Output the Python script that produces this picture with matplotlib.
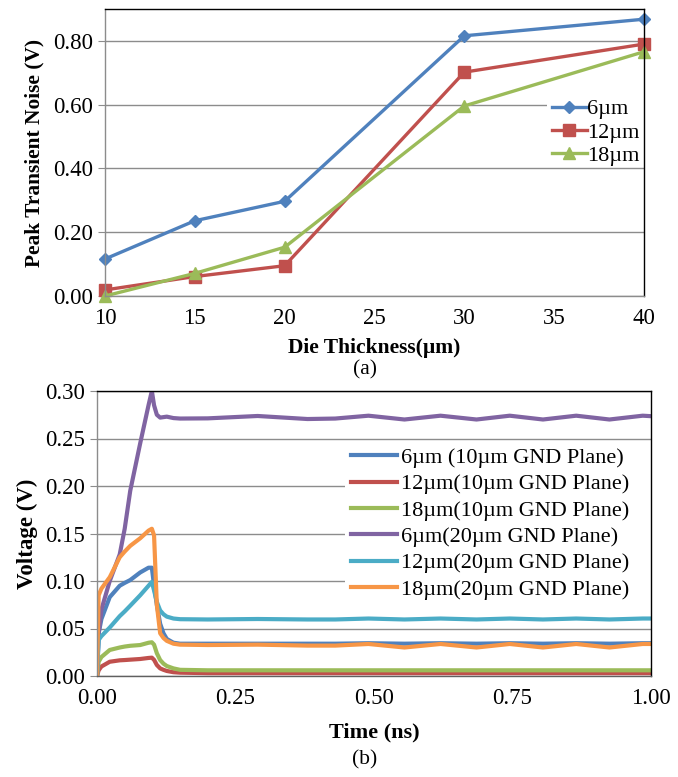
import matplotlib
matplotlib.use('Agg')
import matplotlib.pyplot as plt
from matplotlib.patches import Rectangle

plt.rcParams['font.family'] = ['Liberation Serif', 'DejaVu Serif']

# (a) peak transient noise vs die thickness
die_thickness = [10, 15, 20, 30, 40]
noise_6um = [0.116, 0.236, 0.297, 0.816, 0.868]
noise_12um = [0.019, 0.061, 0.095, 0.702, 0.790]
noise_18um = [0.000, 0.071, 0.153, 0.596, 0.766]
top_labels = ['6\u00b5m', '12\u00b5m', '18\u00b5m']

# (b) transient waveforms
time_ns = [0.0, 0.003, 0.008, 0.023, 0.041, 0.05, 0.06, 0.078, 0.093, 0.099,
           0.103, 0.108, 0.114, 0.12, 0.126, 0.138, 0.15, 0.2, 0.29, 0.38,
           0.43, 0.49, 0.555, 0.62, 0.685, 0.745, 0.805, 0.865, 0.925, 0.985, 1.0]
v_6um_10 = [0.0, 0.045, 0.060, 0.083, 0.095, 0.098, 0.101, 0.109, 0.114, 0.114,
            0.095, 0.075, 0.055, 0.045, 0.039, 0.035, 0.034, 0.034, 0.034, 0.034,
            0.034, 0.0345, 0.034, 0.0345, 0.034, 0.0345, 0.034, 0.0345, 0.034, 0.0345, 0.0345]
v_12um_10 = [0.0, 0.006, 0.010, 0.015, 0.0165, 0.0168, 0.0172, 0.0179, 0.019, 0.0193,
             0.017, 0.0116, 0.008, 0.0065, 0.0053, 0.004, 0.0035, 0.003, 0.003, 0.003,
             0.003, 0.003, 0.003, 0.003, 0.003, 0.003, 0.003, 0.003, 0.003, 0.003, 0.003]
v_18um_10 = [0.0, 0.015, 0.020, 0.0274, 0.030, 0.031, 0.0318, 0.0326, 0.035, 0.0355,
             0.033, 0.024, 0.0168, 0.013, 0.0105, 0.008, 0.0065, 0.006, 0.006, 0.006,
             0.006, 0.006, 0.006, 0.006, 0.006, 0.006, 0.006, 0.006, 0.006, 0.006, 0.006]
v_6um_20 = [0.0, 0.045, 0.070, 0.100, 0.128, 0.155, 0.195, 0.245, 0.285, 0.300,
            0.285, 0.275, 0.272, 0.2725, 0.273, 0.2715, 0.271, 0.2712, 0.2737, 0.2705,
            0.271, 0.274, 0.270, 0.274, 0.270, 0.274, 0.270, 0.274, 0.270, 0.274, 0.2735]
v_12um_20 = [0.0, 0.038, 0.042, 0.051, 0.063, 0.068, 0.074, 0.085, 0.095, 0.099,
             0.090, 0.078, 0.069, 0.065, 0.0625, 0.0605, 0.0598, 0.0595, 0.060, 0.0595,
             0.0595, 0.0605, 0.0595, 0.0605, 0.0595, 0.0605, 0.0595, 0.0605, 0.0595, 0.0605, 0.0605]
v_18um_20 = [0.0, 0.085, 0.092, 0.104, 0.125, 0.131, 0.137, 0.145, 0.153, 0.155,
             0.148, 0.075, 0.045, 0.040, 0.037, 0.034, 0.033, 0.0326, 0.033, 0.032,
             0.032, 0.0337, 0.030, 0.0337, 0.030, 0.0337, 0.030, 0.0337, 0.030, 0.0337, 0.0337]
bottom_labels = ['6\u00b5m (10\u00b5m GND Plane)', '12\u00b5m(10\u00b5m GND Plane)',
                 '18\u00b5m(10\u00b5m GND Plane)', '6\u00b5m(20\u00b5m GND Plane)',
                 '12\u00b5m(20\u00b5m GND Plane)', '18\u00b5m(20\u00b5m GND Plane)']

blue, red, green = '#4F81BD', '#C0504D', '#9BBB59'
purple, teal, orange = '#8064A2', '#4BACC6', '#F79646'
grid_gray = '#8c8c8c'


def style_axes(ax, size):
    ax.grid(axis='y', color=grid_gray, linewidth=1.0)
    ax.set_axisbelow(True)
    for side in ('top', 'right'):
        ax.spines[side].set_color('black')
    for side in ('left', 'bottom'):
        ax.spines[side].set_color(grid_gray)
    for sp in ax.spines.values():
        sp.set_linewidth(1.0)
    ax.tick_params(axis='y', direction='out', length=5, color=grid_gray, labelsize=size)
    ax.tick_params(axis='x', length=0, labelsize=size, pad=9)


def legend_backdrop(ax, x0, y0, x1, y1):
    # white area behind the legend, hides the grid like the original plot area
    ax.add_patch(Rectangle((x0, y0), x1 - x0, y1 - y0, transform=ax.transAxes,
                           facecolor='white', edgecolor='none', zorder=1))


fig = plt.figure(figsize=(6.78, 7.77), dpi=100)

# ---- panel (a)
ax1 = fig.add_axes([105 / 678, 1 - 296 / 777, 539 / 678, 287 / 777])
ax1.plot(die_thickness, noise_6um, color=blue, lw=2.4, marker='D', ms=6.5, label=top_labels[0])
ax1.plot(die_thickness, noise_12um, color=red, lw=2.4, marker='s', ms=8, label=top_labels[1])
ax1.plot(die_thickness, noise_18um, color=green, lw=2.4, marker='^', ms=8.5, label=top_labels[2])
ax1.set_xlim(10, 40)
ax1.set_ylim(0, 0.9)
ax1.set_xticks([10, 15, 20, 25, 30, 35, 40])
ax1.set_yticks([0.0, 0.2, 0.4, 0.6, 0.8])
ax1.set_yticklabels(['%.2f' % v for v in [0.0, 0.2, 0.4, 0.6, 0.8]])
style_axes(ax1, 16.5)
for ln in ax1.get_lines():
    ln.set_clip_on(False)
ax1.set_ylabel('Peak Transient Noise (V)', fontsize=15.4, fontweight='bold', labelpad=6)
ax1.set_xlabel('Die Thickness(\u00b5m)', fontsize=15.5, fontweight='bold', labelpad=6)
legend_backdrop(ax1, 0.82, 0.46, 1.0, 0.70)
ax1.legend(loc='center right', bbox_to_anchor=(1.0, 0.57), fontsize=16,
           frameon=False, handlelength=1.6, handletextpad=0.0, labelspacing=0.12,
           borderpad=0.2, borderaxespad=0.0)
fig.text(0.5385, 1 - 370 / 777, '(a)', ha='center', va='center', fontsize=15.5)

# ---- panel (b)
ax2 = fig.add_axes([97 / 678, 1 - 676 / 777, 554 / 678, 285 / 777])
series_b = [v_6um_10, v_12um_10, v_18um_10, v_6um_20, v_12um_20, v_18um_20]
colors_b = [blue, red, green, purple, teal, orange]
for vals, col, lab in zip(series_b, colors_b, bottom_labels):
    ax2.plot(time_ns, vals, color=col, lw=3.0, label=lab, solid_joinstyle='round')
ax2.set_xlim(0, 1.0)
ax2.set_ylim(0, 0.30)
ax2.set_xticks([0, 0.25, 0.5, 0.75, 1.0])
ax2.set_xticklabels(['%.2f' % v for v in [0, 0.25, 0.5, 0.75, 1.0]])
yt = [0, 0.05, 0.10, 0.15, 0.20, 0.25, 0.30]
ax2.set_yticks(yt)
ax2.set_yticklabels(['%.2f' % v for v in yt])
style_axes(ax2, 16.5)
ax2.spines['bottom'].set_color('#606060')
ax2.set_ylabel('Voltage (V)', fontsize=16.5, fontweight='bold', labelpad=5)
ax2.set_xlabel('Time (ns)', fontsize=16, fontweight='bold', labelpad=9)
legend_backdrop(ax2, 0.448, 0.27, 1.0, 0.81)
ax2.legend(loc='center right', bbox_to_anchor=(1.0, 0.535), fontsize=16,
           frameon=False, handlelength=2.1, handletextpad=0.15, labelspacing=0.26,
           borderpad=0.4, borderaxespad=0.6)
fig.text(0.5385, 1 - 760 / 777, '(b)', ha='center', va='center', fontsize=15.5)

fig.savefig('out.png', dpi=100)
